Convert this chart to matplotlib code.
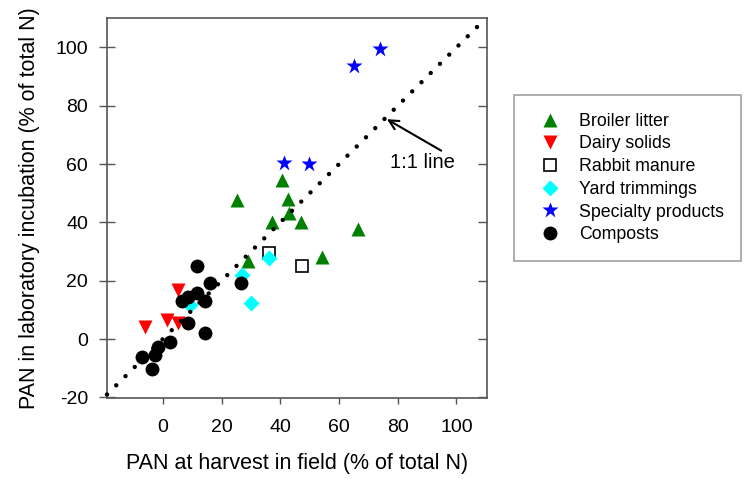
import matplotlib
matplotlib.use("Agg")
import matplotlib.pyplot as plt

plt.rcParams['font.family'] = ['Liberation Sans', 'DejaVu Sans']
plt.rcParams['axes.unicode_minus'] = False

# ---- data (PAN field %, PAN lab %) ----
broiler_x = [40.5, 25.2, 42.5, 42.9, 37.3, 46.9, 66.5, 29.1, 54.3]
broiler_y = [54.4, 47.8, 48.1, 43.2, 40.3, 40.3, 37.7, 26.8, 28.1]

dairy_x = [5.3, -6.0, 1.4, 5.3]
dairy_y = [16.9, 4.1, 6.6, 5.5]

rabbit_x = [36.1, 47.3]
rabbit_y = [29.5, 24.9]

yard_x = [36.1, 27.1, 30.0, 9.3]
yard_y = [27.7, 22.0, 12.3, 11.7]

special_x = [73.8, 65.2, 41.4, 49.8]
special_y = [99.4, 93.5, 60.3, 60.0]

compost_x = [11.6, 16.1, 26.6, 11.6, 8.7, 6.5, 14.4, 8.7, 14.4, 2.5, -1.5, -2.6, -7.2, -3.7]
compost_y = [24.9, 19.4, 19.2, 15.7, 14.6, 12.9, 13.1, 5.5, 2.0, -0.9, -2.6, -5.4, -6.0, -10.3]

line_ends = [-19.0, 107.4]
x_ticks = [0, 20, 40, 60, 80, 100]
y_ticks = [-20, 0, 20, 40, 60, 80, 100]

labels = ["Broiler litter", "Dairy solids", "Rabbit manure",
          "Yard trimmings", "Specialty products", "Composts"]

# ---- figure ----
fig = plt.figure(figsize=(7.47, 4.79), dpi=100)
ax = fig.add_axes([107 / 747, 1 - 398.3 / 479, (487.3 - 107) / 747, (398.3 - 17.7) / 479])

ax.set_xlim(-19.0, 110.5)
ax.set_ylim(-20.3, 110.2)

h_b, = ax.plot(broiler_x, broiler_y, linestyle='none', marker='^', ms=9.6,
               mfc='#008000', mec='none', zorder=3)
h_d, = ax.plot(dairy_x, dairy_y, linestyle='none', marker='v', ms=9.6,
               mfc='#ff0000', mec='none', zorder=3)
h_r, = ax.plot(rabbit_x, rabbit_y, linestyle='none', marker='s', ms=8.0,
               mfc='white', mec='black', mew=1.2, zorder=3)
h_y, = ax.plot(yard_x, yard_y, linestyle='none', marker='D', ms=8.2,
               mfc='#00ffff', mec='none', zorder=3)
h_s, = ax.plot(special_x, special_y, linestyle='none', marker='*', ms=12,
               mfc='#0000ff', mec='none', zorder=3)
h_c, = ax.plot(compost_x, compost_y, linestyle='none', marker='o', ms=10,
               mfc='black', mec='none', zorder=3)

# 1:1 dotted line
ax.plot(line_ends, line_ends, color='black', lw=3.2,
        linestyle=(0, (0.001, 2.932)), dash_capstyle='round', zorder=4,
        clip_on=False)

ax.annotate("1:1 line", xy=(76.3, 75.4), xytext=(77.2, 60.4),
            fontsize=14.5, va='center', ha='left',
            arrowprops=dict(arrowstyle='->', lw=1.5, color='black',
                            shrinkA=0, shrinkB=0, mutation_scale=17,
                            relpos=(0.82, 1.1)),
            zorder=5)

ax.set_xticks(x_ticks)
ax.set_yticks(y_ticks)
ax.tick_params(axis='x', direction='out', length=4, width=1, color='#555555',
               labelsize=14, pad=11)
ax.tick_params(axis='y', direction='inout', length=11.3, width=1, color='#555555',
               labelsize=14, pad=8, right=False)

for sp in ax.spines.values():
    sp.set_color('#555555')
    sp.set_linewidth(1.2)

# right side ticks: inward only
secy = ax.secondary_yaxis('right')
secy.set_yticks(y_ticks)
secy.tick_params(direction='in', length=6.5, width=1, color='#555555', labelright=False)
secy.spines['right'].set_visible(False)

ax.set_xlabel("PAN at harvest in field (% of total N)", fontsize=15.5, labelpad=12)
ax.set_ylabel("PAN in laboratory incubation (% of total N)", fontsize=15.5, labelpad=11)

leg = fig.legend([h_b, h_d, h_r, h_y, h_s, h_c], labels,
                 loc='upper left', bbox_to_anchor=(514 / 747, 1 - 95 / 479),
                 fontsize=12.8, frameon=True, fancybox=False, borderpad=1.0,
                 labelspacing=0.32, handlelength=2.0, handletextpad=0.64,
                 borderaxespad=0, numpoints=1)
leg.get_frame().set_edgecolor('#888888')
leg.get_frame().set_linewidth(1.2)

fig.savefig("out.png", dpi=100)
